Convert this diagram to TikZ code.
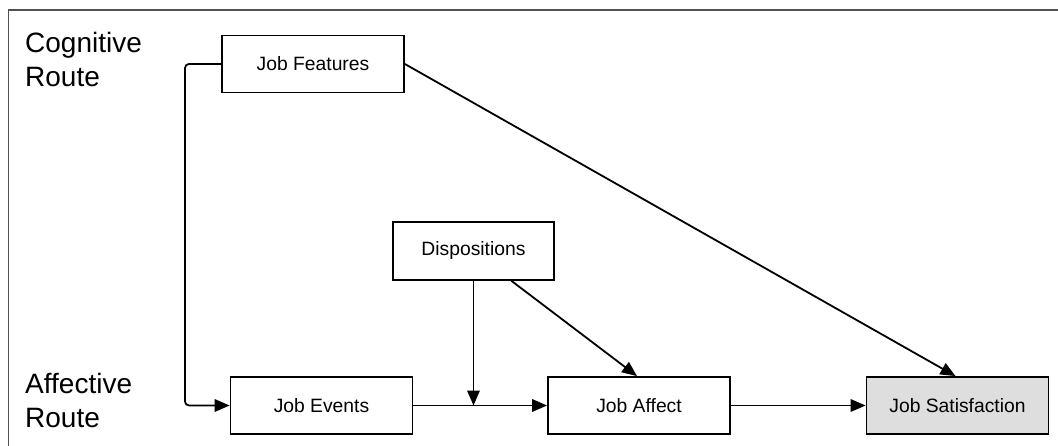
\documentclass[tikz,border=0pt]{standalone}
\usepackage{fontspec}
\setmainfont{Liberation Sans}
\usetikzlibrary{arrows.meta}
\begin{document}
\begin{tikzpicture}[x=1pt,y=-1pt,
  box/.style={draw=black, line width=1.8pt, fill=white, minimum width=182pt,
    minimum height=57pt, inner sep=0pt, font=\fontsize{19.3}{23}\selectfont},
  outcome/.style={box, fill=black!13},
  route/.style={anchor=base west, align=left, inner sep=0pt,
    font=\fontsize{28}{34}\selectfont},
  link/.style={line width=1.8pt, -{Triangle[length=15pt,width=12.5pt]}},
  frameline/.style={draw=black!68, line width=1.8pt}]
\useasboundingbox (0,0) rectangle (1058,446);
% open frame: top and left edges only
\draw[frameline] (1058,10) -- (8.5,10) -- (8.5,446);
% route labels (anchored on the baseline of the last line)
\node[route] (cog) at (25,87) {Cognitive\\Route};
\node[route] (aff) at (25,428) {Affective\\Route};
% boxes
\node[box] (jf) at (313,64) {Job Features};
\node[box, minimum width=161pt, minimum height=58pt] (disp) at (473.5,251) {Dispositions};
\node[box] (ev) at (321.5,405.5) {Job Events};
\node[box] (af) at (639,405.5) {Job Affect};
\node[outcome] (js) at (957.5,405.5) {Job Satisfaction};
% moderation junction on the events -> affect path
\coordinate (jn) at (ev.east -| disp.south);
% connectors
\draw[link, rounded corners=4pt] (jf.west) -- (185,64) -- (185,405.5) -- (ev.west);
\draw[link] (jf.east) -- ([xshift=-2pt]js.north);
\draw[link] (ev.east) -- (af.west);
\draw[link] (disp.south) -- (jn);
\draw[link] ([xshift=38pt]disp.south) -- ([xshift=-2pt]af.north);
\draw[link] (af.east) -- (js.west);
\end{tikzpicture}
\end{document}
